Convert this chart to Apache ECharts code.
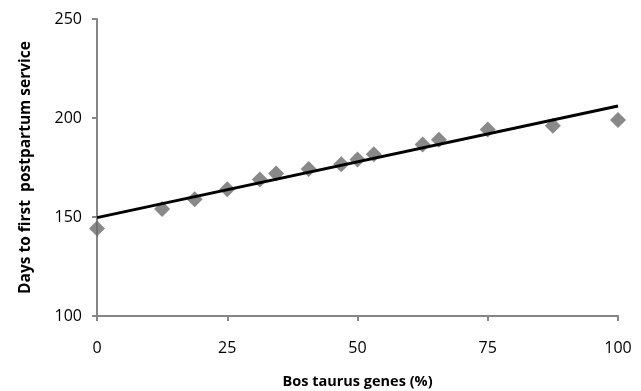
<!DOCTYPE html>
<html>
<head>
<meta charset="utf-8">
<script src="https://cdn.jsdelivr.net/npm/echarts@6/dist/echarts.min.js"></script>
<style>html,body{margin:0;padding:0;background:#fff;}#c{width:641px;height:391px;}</style>
</head>
<body>
<div id="c"></div>
<script>
var genesPct = [0, 12.5, 18.75, 25, 31.25, 34.375, 40.625, 46.875, 50, 53.125, 62.5, 65.625, 75, 87.5, 100];
var daysToService = [144.2, 154, 159, 164, 169, 172, 174.2, 176.6, 179, 181.7, 186.6, 189, 194.2, 196.1, 199];
var trendX = [0, 100];
var trendY = [149.7, 206.1];
var xTicks = [0, 25, 50, 75, 100];
var yTicks = [100, 150, 200, 250];

var chart = echarts.init(document.getElementById('c'));
var axisGray = '#868686';
chart.setOption({
  animation: false,
  backgroundColor: '#fff',
  grid: { left: 97, right: 23, top: 19, bottom: 75, containLabel: false, outerBoundsMode: 'none' },
  xAxis: {
    type: 'value', min: xTicks[0], max: xTicks[xTicks.length - 1], interval: 25,
    name: 'Bos taurus genes (%)', nameLocation: 'middle', nameGap: 58,
    nameTextStyle: { fontFamily: 'Open Sans', fontWeight: 'bold', fontSize: 14.5, color: '#000' },
    axisLine: { show: true, onZero: false, lineStyle: { color: axisGray, width: 2 } },
    axisTick: { show: true, length: 5, lineStyle: { color: axisGray, width: 2 } },
    axisLabel: { margin: 24, fontFamily: 'Open Sans', fontSize: 16, color: '#000' },
    splitLine: { show: false }
  },
  yAxis: {
    type: 'value', min: yTicks[0], max: yTicks[yTicks.length - 1], interval: 50,
    name: 'Days to first  postpartum service', nameLocation: 'middle', nameGap: 63, nameRotate: 90,
    nameTextStyle: { fontFamily: 'Open Sans', fontWeight: 'bold', fontSize: 15.5, color: '#000' },
    axisLine: { show: true, onZero: false, lineStyle: { color: axisGray, width: 2 } },
    axisTick: { show: true, length: 5, lineStyle: { color: axisGray, width: 2 } },
    axisLabel: { margin: 15, fontFamily: 'Open Sans', fontSize: 16, color: '#000' },
    splitLine: { show: false }
  },
  series: [
    {
      type: 'scatter', symbol: 'diamond', symbolSize: 16,
      itemStyle: { color: '#6c6c6c' },
      data: genesPct.map(function (x, i) { return [x, daysToService[i]]; }),
      z: 2
    },
    {
      type: 'line', symbol: 'none',
      lineStyle: { color: '#000', width: 3 },
      data: trendX.map(function (x, i) { return [x, trendY[i]]; }),
      z: 3
    }
  ]
});
</script>
</body>
</html>
